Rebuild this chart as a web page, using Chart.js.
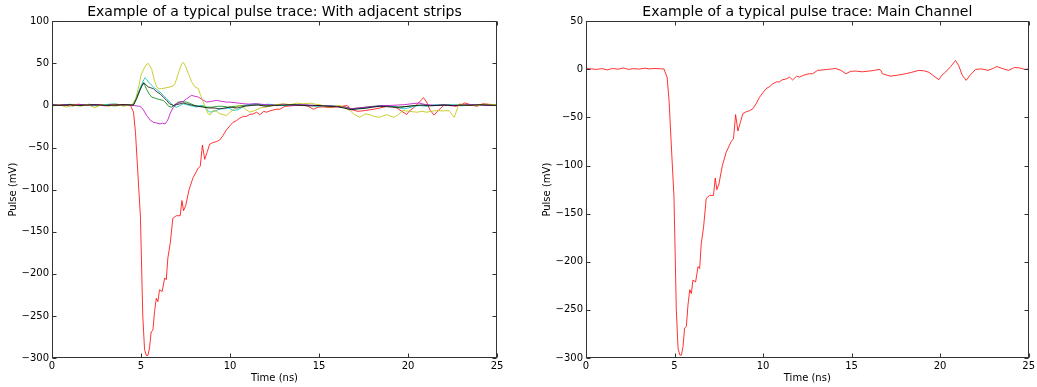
<!DOCTYPE html>
<html>
<head>
<meta charset="utf-8">
<script src="https://cdn.jsdelivr.net/npm/chart.js@4/dist/chart.umd.min.js"></script>
<style>
html,body{margin:0;padding:0;background:#fff;}
body{width:1037px;height:387px;position:relative;overflow:hidden;}
canvas{position:absolute;top:0;}
#c1{left:0;}
#c2{left:534px;}
</style>
</head>
<body>
<canvas id="c1" width="520" height="387"></canvas>
<canvas id="c2" width="503" height="387"></canvas>
<script>
// ---- Titles / labels ----
const titleLeft = "Example of a typical pulse trace: With adjacent strips";
const titleRight = "Example of a typical pulse trace: Main Channel";
const xLabel = "Time (ns)";
const yLabel = "Pulse (mV)";

// ---- Tick settings ----
const xTicks = [0, 5, 10, 15, 20, 25];
const yTicksLeft = [-300, -250, -200, -150, -100, -50, 0, 50, 100];
const yTicksRight = [-300, -250, -200, -150, -100, -50, 0, 50];

// ---- Main channel (red) ----
const mainT = [0,0.3,0.6,0.9,1.2,1.5,1.8,2.1,2.4,2.7,3.0,3.3,3.6,3.9,4.2,4.4,4.58,4.69,4.85,4.97,5.1,5.2,5.3,5.39,5.48,5.57,5.67,5.76,5.86,5.95,6.04,6.19,6.33,6.42,6.51,6.64,6.79,6.98,7.2,7.3,7.39,7.51,7.7,7.92,8.2,8.33,8.45,8.58,8.72,8.86,9.05,9.23,9.42,9.6,9.8,10.0,10.17,10.36,10.55,10.75,10.92,11.1,11.3,11.5,11.67,11.9,12.05,12.3,12.6,12.8,13.08,13.4,13.64,13.9,14.1,14.4,14.68,14.95,15.24,15.6,16.0,16.3,16.55,16.65,16.74,17.0,17.2,17.6,18.06,18.4,18.8,19.1,19.37,19.65,19.93,20.1,20.31,20.6,20.87,21.05,21.25,21.47,21.7,22.0,22.35,22.7,23.0,23.2,23.5,23.87,24.2,24.5,24.8,25];
const mainV = [1,0.5,0,0.8,-0.5,1,0.2,1.5,0,0.8,0.3,1.2,0.5,1,0.6,0.5,-8,-32,-90,-133,-250,-290,-297,-297,-288,-269,-267,-245,-229,-233,-219,-221,-205,-207,-181,-164,-134,-131,-131,-113,-125,-119,-100,-86,-75,-72,-47,-64,-55,-46,-44,-43,-41,-36,-29,-24,-20,-18,-15,-13,-13,-10.7,-10,-8,-11,-7,-8,-6,-4.5,-4.5,-1,-0.5,0,0.5,1,-1,-4.5,-2,-1.7,-2.5,-1.7,-1,0,-1,-4.5,-6,-7,-6,-4.5,-3,-1,-1.5,-3,-7,-10.7,-6,-2.8,3,9.3,4,-6,-11.4,-6,0,0.5,-1,1,3,1,-1,2,1.5,0,0.5];

// ---- Adjacent strips ----
const yellowT = [0,0.4,0.8,1.2,1.6,2.0,2.4,2.8,3.2,3.6,4.0,4.3,4.5,4.7,4.85,5.0,5.13,5.27,5.41,5.5,5.6,5.75,5.88,6.0,6.16,6.4,6.63,6.8,6.91,7.05,7.19,7.3,7.38,7.5,7.66,7.85,8.03,8.22,8.35,8.5,8.65,8.78,8.9,9.06,9.25,9.44,9.63,9.81,10.0,10.2,10.4,10.6,10.8,11.1,11.4,11.7,12.25,12.6,13.0,13.4,13.75,14.1,14.5,14.8,15.06,15.35,15.62,15.9,16.18,16.45,16.74,17.0,17.3,17.58,17.87,18.1,18.4,18.8,19.2,19.46,19.7,20.1,20.5,20.8,21.05,21.3,21.6,22.0,22.3,22.6,22.8,22.9,23.3,23.9,24.4,25];
const yellowV = [-1,1,-2,1.5,-1,1,-2.5,1,-1,2,-1,0.5,1,8,20,36,42,48,50,47,43,30,22,20,20,21,22,23,26,35,44,50,51,47,38,28,22,20,12,4,-4,-10,-11,-6,-7,-10,-11,-12,-8,-5,-1,0,-3,-7.9,-6,-3,-1,1,2,1,2.8,2,2.8,1.5,0.8,-1,-2,-1,0,-3,-6,-11,-14,-10,-11,-13,-14,-11,-14,-11,-6,-7,-8,-7,-8,-7,-6,-6.5,-6,-14,-2,2,0,0,1.5,1];

const cyanT = [0,0.5,1.0,1.5,2.0,2.5,3.0,3.5,4.0,4.4,4.57,4.75,4.94,5.1,5.22,5.32,5.41,5.55,5.69,5.88,6.07,6.25,6.44,6.6,6.72,6.85,7.0,7.2,7.38,7.55,7.75,7.95,8.13,8.3,8.5,8.7,8.88,9.05,9.25,9.45,9.63,9.9,10.2,10.45,10.7,11.0,11.4,11.8,12.2,12.6,13.0,13.5,14.0,14.5,15.0,15.5,16.0,16.5,16.8,17.2,17.6,18.0,18.4,18.8,19.2,19.5,19.8,20.2,20.6,21.0,21.5,22.0,22.5,23.0,23.5,24.0,24.5,25];
const cyanV = [1,0,1.5,0,1,-0.5,1,2,0,1,1,10,20,28,33,31,28,25,22,19,16,12,8,4,2,-1,-2,0,2,1,0,-1,-2,0,0,-5,-8,-7,-6,-4,-4,-3,-6,-5,-2,1,2,1,1.5,0.5,0,0.5,1,0,-1,0,-1,-3,-5,-4,-3,-2,0,-1,-1,-3,-4,-2,0,-1,1,0,1,-0.5,1,0,0.5,1];

const magentaT = [0,0.5,1,1.5,2,2.5,3,3.5,4,4.57,4.94,5.1,5.32,5.5,5.69,5.9,6.07,6.2,6.35,6.45,6.53,6.65,6.82,7.0,7.19,7.38,7.56,7.7,7.85,8.0,8.22,8.45,8.69,8.95,9.25,9.5,9.8,10.0,10.4,10.8,11.1,11.5,12.0,12.5,13.0,13.5,14.0,14.5,15.0,15.5,16.0,16.5,16.8,17.2,17.7,18.2,18.6,19.0,19.4,19.8,20.2,20.6,21.0,21.5,22.0,22.5,23.0,23.5,24.0,24.5,25];
const magentaV = [0,1,0.5,1.5,0,1,-0.5,1,0.5,0,-1,-4,-12,-17,-20,-21,-22,-21,-22,-19,-16,-9,-2,2,4,5,8,10,12,11,10,7,4,5,6,5,4,4,3,2,1.6,2,1,0.5,1.6,0,1,0.5,0,-0.5,-1,-2,-4,-3,-2,-1,0,0,0.5,1,2,3,1,0,0.5,-0.5,0.5,1,0.5,0,0.5];

const blackT = [0,0.5,1,1.5,2,2.5,3,3.5,4,4.57,4.75,4.94,5.05,5.17,5.3,5.41,5.55,5.69,5.9,6.07,6.25,6.44,6.6,6.82,7.0,7.19,7.38,7.56,7.75,7.94,8.2,8.5,8.8,9.1,9.44,9.7,10.0,10.4,10.8,11.2,11.6,12.0,12.5,13.0,13.5,14.0,14.5,15.0,15.5,16.0,16.4,16.8,17.2,17.6,18.0,18.4,18.8,19.2,19.6,20.0,20.4,20.8,21.2,21.6,22.0,22.5,23.0,23.5,24.0,24.5,25];
const blackV = [0.5,0,1,0,0.5,1,0,0.5,1,0.5,8,18,23,27,24,22,21,20,16,14,10,6,2,0,1,2,3,2,1,0,-1,-2,-3,-3,-4,-3,-2,-3,-1,0,0.5,-1,0,0.5,1,0,-0.5,0,-1,-1.5,-3,-5,-4,-3.5,-2,-1,-1.5,-2,-2,-1,0,0.5,-0.5,0,0.5,0,0.5,0,1,0.5,0];

const greenT = [0,0.5,1,1.5,2,2.5,3,3.5,4,4.57,4.7,4.85,5.0,5.13,5.22,5.32,5.45,5.6,5.75,5.88,6.05,6.25,6.4,6.55,6.72,6.9,7.09,7.3,7.56,7.8,8.03,8.3,8.5,8.69,9.0,9.3,9.6,9.9,10.3,10.7,11.1,11.5,12.0,12.5,13.0,13.5,14.0,14.5,15.0,15.5,16.0,16.5,16.8,17.2,17.6,18.0,18.5,19.0,19.5,20.0,20.5,21.0,21.5,22.0,22.5,23.0,23.5,24.0,24.5,25];
const greenV = [0,1,-0.5,0.5,1,0,0.5,-0.5,0.5,0.5,6,14,22,27,24,19,14,10,9,8,7,6,3,-1,-2,1,4,4.5,4,2,0,-1,-1,-2,-2,-1,-1,-2,-1,0,0.5,1,0,0.5,0,1,0.5,0,-0.5,0,-1,-2,-4,-3,-2,-1,-0.5,-1,-2,-1,0,0.5,0,1,0,0.5,1,0,0.5,0];

// ---- helpers ----
Chart.defaults.font.family = "'DejaVu Sans', sans-serif";
Chart.defaults.font.size = 10;
Chart.defaults.color = '#000';

function pts(T, V) { return T.map((t, i) => ({x: t, y: V[i]})); }
function fmt(v) { return v < 0 ? '\u2212' + Math.abs(v) : String(v); }
function ds(T, V, color) {
  return {data: pts(T, V), borderColor: color, borderWidth: 1, pointRadius: 0, tension: 0, fill: false};
}

const framePlugin = {
  id: 'frame',
  afterDraw(chart) {
    const {ctx, chartArea: a, scales} = chart;
    ctx.save();
    ctx.strokeStyle = '#333';
    ctx.lineWidth = 1;
    const L = Math.round(a.left) + 0.5, R = Math.round(a.right) - 0.5;
    const T = Math.round(a.top) + 0.5, B = Math.round(a.bottom) - 0.5;
    ctx.strokeRect(L, T, R - L, B - T);
    const tl = 4;
    ctx.beginPath();
    scales.x.ticks.forEach(tk => {
      const px = Math.round(scales.x.getPixelForValue(tk.value)) + 0.5;
      ctx.moveTo(px, B); ctx.lineTo(px, B - tl);
      ctx.moveTo(px, T); ctx.lineTo(px, T + tl);
    });
    scales.y.ticks.forEach(tk => {
      const py = Math.round(scales.y.getPixelForValue(tk.value)) + 0.5;
      ctx.moveTo(L, py); ctx.lineTo(L + tl, py);
      ctx.moveTo(R, py); ctx.lineTo(R - tl, py);
    });
    ctx.stroke();
    ctx.restore();
  }
};

function makeChart(id, title, datasets, yTicks, padRight) {
  return new Chart(document.getElementById(id), {
    type: 'line',
    data: {datasets},
    plugins: [framePlugin],
    options: {
      responsive: false,
      animation: false,
      devicePixelRatio: 1,
      layout: {padding: {left: 0, right: padRight, top: 0, bottom: 0}},
      plugins: {
        legend: {display: false},
        tooltip: {enabled: false},
        title: {
          display: true, text: title, fullSize: false,
          font: {size: 14, weight: 'normal', lineHeight: 1.2},
          color: '#000',
          padding: {top: 4, bottom: 0.5}
        }
      },
      scales: {
        x: {
          type: 'linear', min: 0, max: 25,
          afterBuildTicks: s => { s.ticks = xTicks.map(v => ({value: v})); },
          afterFit: s => { s.height = 29; },
          ticks: {padding: 2, maxRotation: 0, callback: v => fmt(v), font: {size: 10}},
          grid: {display: false, drawTicks: false},
          border: {display: false},
          title: {display: true, text: xLabel, font: {size: 10}, padding: {top: 0, bottom: 3}}
        },
        y: {
          type: 'linear', min: yTicks[0], max: yTicks[yTicks.length - 1],
          afterBuildTicks: s => { s.ticks = yTicks.map(v => ({value: v})); },
          afterFit: s => { s.width = 52; },
          ticks: {padding: 3, callback: v => fmt(v), font: {size: 10}},
          grid: {display: false, drawTicks: false},
          border: {display: false},
          title: {display: true, text: yLabel, font: {size: 10}, padding: {top: 7, bottom: 0}}
        }
      }
    }
  });
}

makeChart('c1', titleLeft, [
  ds(blackT, blackV, 'rgba(0,0,0,0.75)'),
  ds(yellowT, yellowV, 'rgba(191,191,0,0.8)'),
  ds(magentaT, magentaV, 'rgba(191,0,191,0.8)'),
  ds(cyanT, cyanV, 'rgba(0,191,191,0.8)'),
  ds(mainT, mainV, 'rgba(255,0,0,0.8)'),
  ds(greenT, greenV, 'rgba(0,128,0,0.8)')
], yTicksLeft, 23);

makeChart('c2', titleRight, [
  ds(mainT, mainV, 'rgba(255,0,0,0.8)')
], yTicksRight, 7);
</script>
</body>
</html>
